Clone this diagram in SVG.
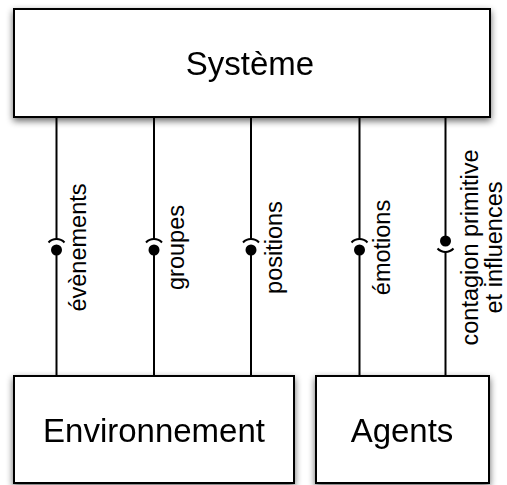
<svg xmlns="http://www.w3.org/2000/svg" width="507" height="485" viewBox="0 0 507 485">
  <defs>
    <filter id="shadow" x="-10%" y="-20%" width="120%" height="140%">
      <feGaussianBlur in="SourceAlpha" stdDeviation="3.5"/>
      <feOffset dx="0" dy="3" result="b"/>
      <feComponentTransfer><feFuncA type="linear" slope="0.6"/></feComponentTransfer>
      <feMerge><feMergeNode/><feMergeNode in="SourceGraphic"/></feMerge>
    </filter>
  </defs>
  <style>
    .box { fill: #ffffff; stroke: #000000; stroke-width: 2; }
    .title { font-family: "Liberation Sans", Arial, sans-serif; font-size: 33px; fill: #000000; text-anchor: middle; }
    .wire { stroke: #000000; stroke-width: 2; fill: none; }
    .ball { fill: #000000; }
    .lbl { font-family: "Liberation Sans", Arial, sans-serif; font-size: 23.5px; fill: #000000; text-anchor: middle; }
  </style>

  <!-- interface wires between the system and its components -->
  <g id="connectors">
    <!-- évènements -->
    <line class="wire" x1="56.5" y1="117" x2="56.5" y2="239"/>
    <line class="wire" x1="56.5" y1="250" x2="56.5" y2="376"/>
    <path class="wire" d="M48.5,242.5 A11,11 0 0 1 64.5,242.5"/>
    <circle class="ball" cx="56.5" cy="250" r="5.5"/>
    <text class="lbl" transform="translate(85.5,247.5) rotate(-90)">évènements</text>

    <!-- groupes -->
    <line class="wire" x1="154" y1="117" x2="154" y2="239"/>
    <line class="wire" x1="154" y1="250" x2="154" y2="376"/>
    <path class="wire" d="M146,242.5 A11,11 0 0 1 162,242.5"/>
    <circle class="ball" cx="154" cy="250" r="5.5"/>
    <text class="lbl" transform="translate(184,247.5) rotate(-90)">groupes</text>

    <!-- positions -->
    <line class="wire" x1="251" y1="117" x2="251" y2="239"/>
    <line class="wire" x1="251" y1="250" x2="251" y2="376"/>
    <path class="wire" d="M243,242.5 A11,11 0 0 1 259,242.5"/>
    <circle class="ball" cx="251" cy="250" r="5.5"/>
    <text class="lbl" transform="translate(282,247.5) rotate(-90)">positions</text>

    <!-- émotions -->
    <line class="wire" x1="359.5" y1="117" x2="359.5" y2="239"/>
    <line class="wire" x1="359.5" y1="250" x2="359.5" y2="376"/>
    <path class="wire" d="M351.5,242.5 A11,11 0 0 1 367.5,242.5"/>
    <circle class="ball" cx="359.5" cy="250" r="5.5"/>
    <text class="lbl" transform="translate(390,247.5) rotate(-90)">émotions</text>

    <!-- contagion primitive et influences -->
    <line class="wire" x1="445.5" y1="117" x2="445.5" y2="241"/>
    <line class="wire" x1="445.5" y1="252" x2="445.5" y2="376"/>
    <path class="wire" d="M437.5,248.5 A11,11 0 0 0 453.5,248.5"/>
    <circle class="ball" cx="445.5" cy="241" r="5.5"/>
    <text class="lbl" transform="translate(477.5,247.5) rotate(-90)">contagion primitive</text>
    <text class="lbl" transform="translate(501.5,247.5) rotate(-90)">et influences</text>
  </g>

  <g id="systeme" filter="url(#shadow)">
    <rect class="box" x="14" y="9" width="476" height="108"/>
    <text class="title" x="250" y="75">Système</text>
  </g>

  <g id="environnement" filter="url(#shadow)">
    <rect class="box" x="14" y="376" width="280" height="107"/>
    <text class="title" x="154" y="442">Environnement</text>
  </g>

  <g id="agents" filter="url(#shadow)">
    <rect class="box" x="316" y="376" width="173" height="107"/>
    <text class="title" x="402" y="442">Agents</text>
  </g>
</svg>
